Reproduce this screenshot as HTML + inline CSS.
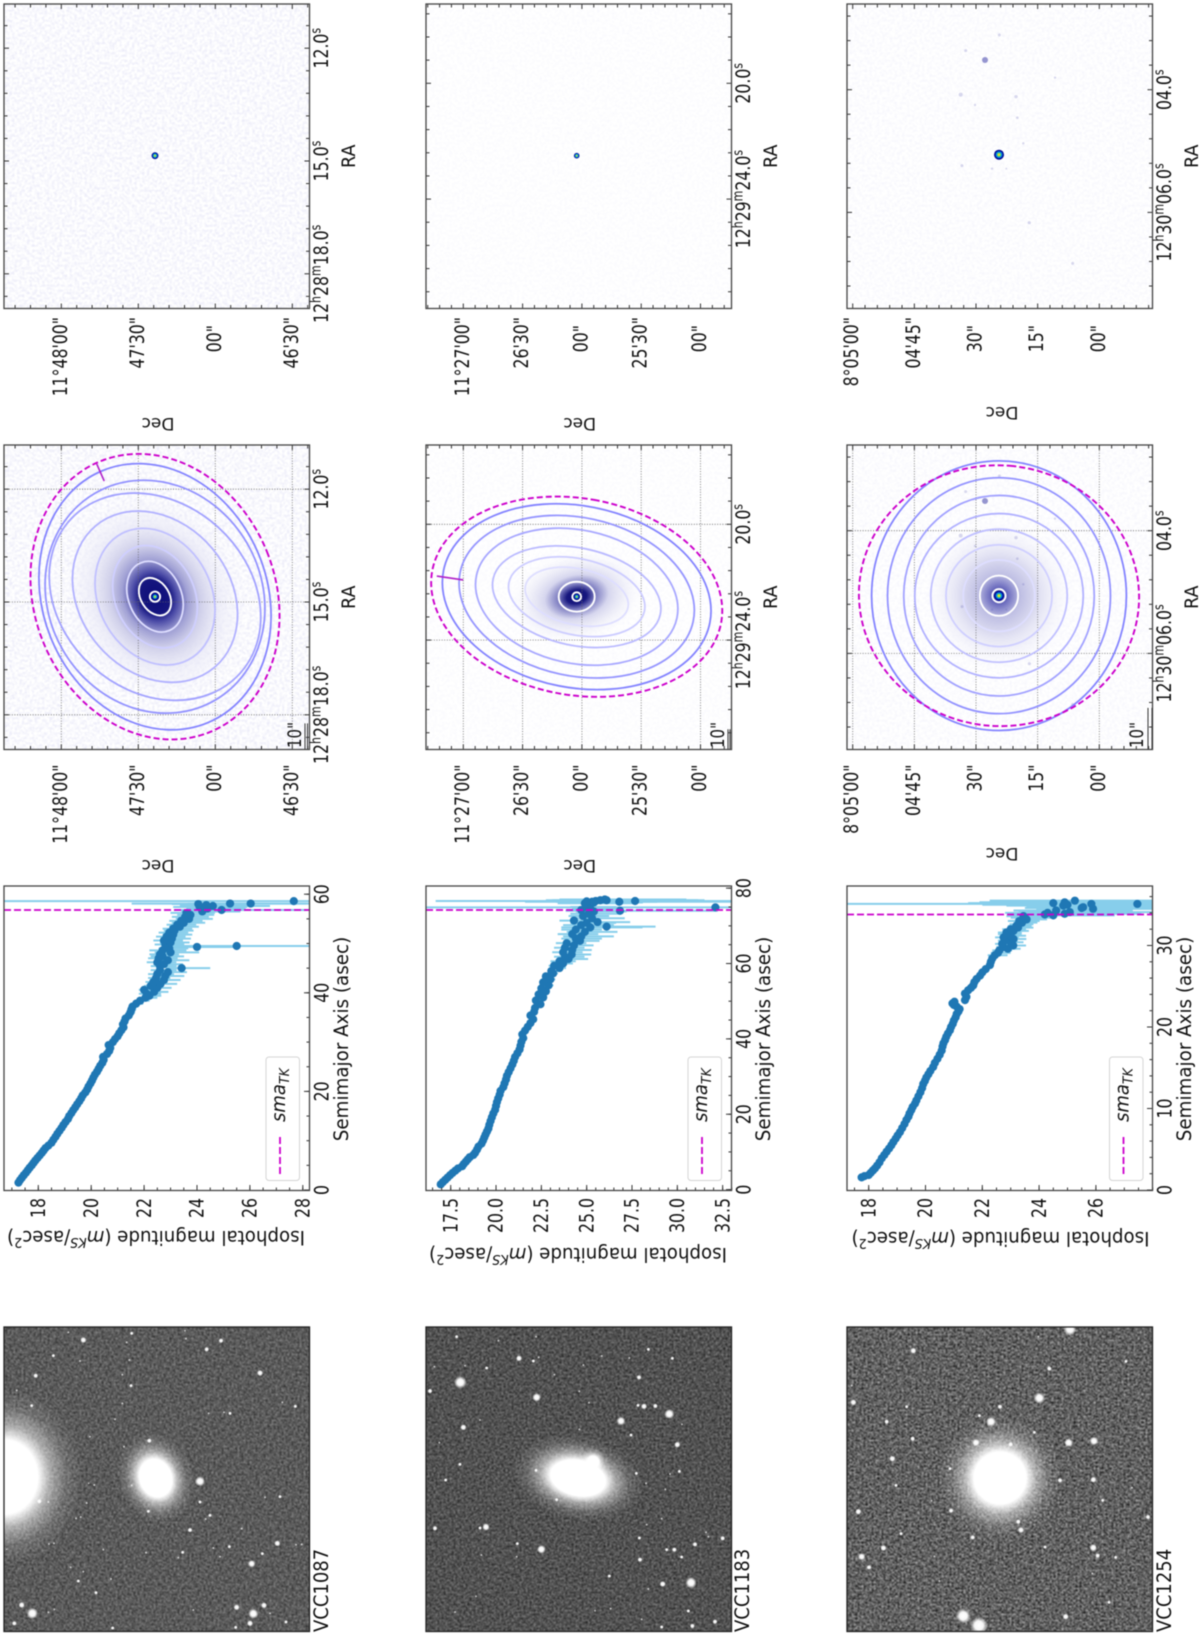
<!DOCTYPE html>
<html lang="en">
<head>
<meta charset="utf-8">
<title>VCC isophote profiles</title>
<style>
html,body{margin:0;padding:0;background:#fff;}
svg{display:block;font-family:"DejaVu Sans","Liberation Sans",sans-serif;filter:blur(0.45px);}
</style>
</head>
<body>
<svg id="figure" xmlns="http://www.w3.org/2000/svg" width="1200" height="1635" viewBox="0 0 1200 1635">
<defs id="defs">
  <filter id="noiseA" x="0" y="0" width="100%" height="100%" color-interpolation-filters="sRGB"><feTurbulence type="fractalNoise" baseFrequency="0.5" numOctaves="2" seed="3"/><feGaussianBlur stdDeviation="0.5"/><feColorMatrix type="matrix" values="0.65 0 0 0 0.03  0.65 0 0 0 0.03  0.65 0 0 0 0.03  0 0 0 0 1"/></filter>
  <filter id="noiseB" x="0" y="0" width="100%" height="100%" color-interpolation-filters="sRGB"><feTurbulence type="fractalNoise" baseFrequency="0.5" numOctaves="2" seed="8"/><feGaussianBlur stdDeviation="0.5"/><feColorMatrix type="matrix" values="0.7 0 0 0 -0.03  0.7 0 0 0 -0.03  0.7 0 0 0 -0.03  0 0 0 0 1"/></filter>
  <filter id="noiseC" x="0" y="0" width="100%" height="100%" color-interpolation-filters="sRGB"><feTurbulence type="fractalNoise" baseFrequency="0.5" numOctaves="2" seed="15"/><feGaussianBlur stdDeviation="0.5"/><feColorMatrix type="matrix" values="1.1 0 0 0 -0.17  1.1 0 0 0 -0.17  1.1 0 0 0 -0.17  0 0 0 0 1"/></filter>
  <filter id="speckle" x="0" y="0" width="100%" height="100%" color-interpolation-filters="sRGB"><feTurbulence type="fractalNoise" baseFrequency="0.4" numOctaves="2" seed="5"/><feGaussianBlur stdDeviation="0.6"/><feColorMatrix type="matrix" values="0 0 0 0 0.55  0 0 0 0 0.55  0 0 0 0 0.85  1.1 0 0 0 -0.44"/></filter>
  <radialGradient id="starGrad"><stop offset="0" stop-color="#fff"/><stop offset="0.5" stop-color="#fff" stop-opacity="0.95"/><stop offset="1" stop-color="#fff" stop-opacity="0"/></radialGradient>
  <radialGradient id="haloGrad"><stop offset="0" stop-color="#fff"/><stop offset="0.42" stop-color="#fff"/><stop offset="0.58" stop-color="#fff" stop-opacity="0.5"/><stop offset="0.78" stop-color="#fff" stop-opacity="0.15"/><stop offset="1" stop-color="#fff" stop-opacity="0"/></radialGradient>
  <radialGradient id="isoHaloA"><stop offset="0" stop-color="#0c0c78"/><stop offset="0.17" stop-color="#16167f"/><stop offset="0.24" stop-color="#4a4aa6"/><stop offset="0.36" stop-color="#a0a0d4"/><stop offset="0.5" stop-color="#d0d0ea"/><stop offset="0.7" stop-color="#e8e8f6" stop-opacity="0.7"/><stop offset="1" stop-color="#f2f2fa" stop-opacity="0"/></radialGradient>
  <radialGradient id="isoHaloB"><stop offset="0" stop-color="#0c0c78"/><stop offset="0.14" stop-color="#18187f"/><stop offset="0.26" stop-color="#7c7cc0"/><stop offset="0.45" stop-color="#d6d6ee"/><stop offset="1" stop-color="#fff" stop-opacity="0"/></radialGradient>
  <radialGradient id="isoHaloC"><stop offset="0" stop-color="#22228c"/><stop offset="0.12" stop-color="#7070c0"/><stop offset="0.28" stop-color="#c0c0e4"/><stop offset="0.55" stop-color="#e4e4f4"/><stop offset="1" stop-color="#fdfdff" stop-opacity="0"/></radialGradient>
</defs>
<rect x="0" y="0" width="1200" height="1635" fill="#fff"/>
<g id="root"></g>
</svg>
<script>
// ---------- VCC1087 surface-brightness profile ----------
const smaA=[1.5,2.0,2.5,3.0,3.5,4.0,4.5,5.0,5.5,6.0,
6.5,7.0,7.5,8.0,8.5,9.0,9.6,10.2,10.8,11.4,
12.0,12.6,13.2,13.8,14.4,15.0,15.6,16.2,16.8,17.4,
18.0,18.6,19.2,19.8,20.4,21.0,21.6,22.2,22.8,23.4,
24.0,24.6,25.2,25.8,26.4,27.0,27.6,28.2,28.8,29.4,
30.0,30.6,31.2,31.8,32.4,33.0,33.6,34.2,34.8,35.4,
36.0,36.6,37.2,37.8,38.4,39.0,39.4,39.8,40.2,40.6,
41.0,41.4,41.8,42.2,42.6,43.0,43.4,43.8,44.2,44.6,
45.0,45.4,45.8,46.2,46.6,47.0,47.4,47.8,48.2,48.6,
49.0,49.3,49.5,49.8,50.2,50.6,51.0,51.4,51.8,52.2,
52.6,53.0,53.4,53.8,54.2,54.6,55.0,55.4,55.8,56.2,
56.5,56.8,57.1,57.4,57.6,57.8,58.0,58.1,58.1,58.6];
const magA=[17.25,17.31,17.38,17.45,17.53,17.60,17.67,17.75,17.82,17.89,
17.97,18.05,18.13,18.20,18.27,18.38,18.50,18.57,18.65,18.72,
18.80,18.88,18.95,19.03,19.12,19.17,19.25,19.32,19.40,19.47,
19.55,19.62,19.68,19.78,19.85,19.90,19.97,20.03,20.08,20.14,
20.22,20.28,20.34,20.42,20.47,20.45,20.60,20.68,20.72,20.66,
20.82,20.90,21.00,21.06,21.14,21.22,21.20,21.26,21.30,21.42,
21.48,21.52,21.56,21.70,21.85,22.05,22.20,22.10,22.38,22.00,
22.50,22.25,22.62,22.35,22.75,22.45,22.80,22.50,22.90,22.60,
23.42,22.60,22.75,22.50,22.90,22.55,22.70,22.60,23.00,22.70,
22.95,24.00,25.50,22.80,23.00,22.75,23.05,22.85,23.10,22.95,
23.15,23.10,23.35,23.25,23.50,23.40,23.70,23.55,23.75,23.60,
24.20,24.93,24.40,24.10,24.60,24.35,24.05,25.25,26.03,27.66];
const errA=[.03,.03,.03,.03,.03,.03,.03,.03,.03,.03,
.03,.03,.03,.03,.03,.03,.03,.03,.03,.03,
.03,.03,.03,.03,.03,.03,.03,.03,.03,.03,
.05,.05,.05,.05,.05,.05,.05,.05,.05,.05,
.05,.05,.05,.05,.05,.05,.05,.05,.05,.05,
.08,.08,.08,.08,.08,.08,.08,.08,.08,.08,
.1,.1,.12,.15,.2,.25,.25,.3,.3,.2,
.3,.25,.35,.3,.35,.3,.4,.35,.4,.35,
.6,.35,.4,.4,.45,.4,.45,.4,.6,.5,
.4,.9,2.6,.4,.4,.4,.4,.4,.4,.4,
.4,.4,.4,.4,.45,.45,.5,.5,.5,.6,
.8,1.8,.8,1,1.2,1,1,1.6,4.5,12];
const magTicksA=[18,20,22,24,26,28];
const smaTicksA=[0,20,40,60];
const smaTkA=56.8;

// ---------- VCC1183 surface-brightness profile ----------
const smaB=[1.4,2.0,2.6,3.2,3.8,4.4,5.0,5.6,6.2,6.8,
7.4,8.0,8.6,9.2,9.8,10.6,11.4,12.2,13.0,13.8,
14.6,15.4,16.2,17.2,18.2,19.2,20.2,21.2,22.2,23.2,
24.2,25.2,26.2,27.2,28.2,29.2,30.2,31.2,32.2,33.2,
34.2,35.2,36.2,37.2,38.2,39.2,40.2,41.2,42.2,43.2,
44.2,45.2,46.2,47.2,48.2,49.2,50.2,51.0,51.8,52.6,
53.4,54.2,55.0,55.8,56.6,57.4,58.0,58.8,59.4,60.0,
60.6,61.2,61.8,62.4,63.0,63.6,64.2,64.8,65.4,66.0,
66.6,67.2,67.8,68.4,69.0,69.6,70.2,70.8,71.4,72.0,
72.6,73.2,73.8,74.2,74.6,75.0,76.0,76.4,76.6,76.8,
74.0,74.9,76.4,76.6,76.8,76.2,77.0,69.8,71.0,76.5];
const magB=[16.95,17.07,17.2,17.33,17.46,17.6,17.75,17.9,18.13,18.22,
18.33,18.44,18.55,18.75,18.85,18.95,19.03,19.2,19.28,19.35,
19.42,19.5,19.58,19.63,19.7,19.77,19.85,19.95,20.0,20.05,
20.12,20.2,20.25,20.4,20.47,20.55,20.6,20.7,20.8,20.9,
20.98,21.05,21.18,21.3,21.35,21.4,21.5,21.45,21.6,21.75,
21.9,22.05,21.9,22.1,22.15,22.45,22.2,22.6,22.35,22.75,
22.5,22.9,22.6,23.0,22.75,23.15,23.05,23.5,23.2,23.7,
23.5,24.0,23.8,24.17,23.7,24.2,23.8,24.3,23.9,24.63,
24.4,24.7,24.2,24.9,24.4,25.2,24.7,25.0,24.3,25.3,
24.8,25.1,25.4,24.7,25.2,25.0,24.9,25.3,25.5,25.75,
26.84,32.1,26.8,27.67,26.1,25.4,26.0,26.1,25.6,25.0];
const errB=[.03,.03,.03,.03,.03,.03,.03,.03,.03,.03,
.03,.03,.03,.03,.03,.03,.03,.03,.03,.03,
.05,.05,.05,.05,.05,.05,.05,.05,.05,.05,
.05,.05,.05,.05,.05,.05,.05,.05,.05,.05,
.06,.06,.06,.06,.06,.06,.06,.06,.06,.06,
.1,.1,.1,.1,.1,.1,.1,.1,.1,.1,
.15,.15,.15,.15,.15,.15,.2,.2,.3,.3,
.5,.6,.6,.6,.6,.6,.6,.6,.6,.6,
.8,1,.8,1,.8,1.6,1,.9,.8,1,
.8,1,1,.8,1,.9,1.5,2,2.5,3,
3,16,5.2,11,3,1.5,2.5,1.5,1,1];
const magTicksB=[17.5,20,22.5,25,27.5,30,32.5];
const smaTicksB=[0,20,40,60,80];
const smaTkB=74.2;

// ---------- VCC1254 surface-brightness profile ----------
const smaC=[1.55,1.7,1.84,2.1,2.4,2.65,3.0,3.4,3.9,4.3,
4.7,5.1,5.5,5.9,6.3,6.7,7.1,7.6,8.1,8.6,
9.0,9.4,9.8,10.2,10.6,11.0,11.5,12.0,12.5,13.0,
13.4,13.8,14.2,14.6,15.1,15.6,16.1,16.6,17.1,17.6,
18.0,18.4,18.8,19.2,19.6,20.0,20.4,20.8,21.2,21.6,
21.9,22.2,22.5,22.7,22.9,23.1,23.3,23.7,24.1,24.5,
24.8,25.1,25.5,25.9,26.3,26.7,27.1,27.6,28.0,28.4,
28.8,29.1,29.4,29.6,29.8,30.0,30.2,30.4,30.6,30.8,
31.0,31.2,31.4,31.6,31.8,32.0,32.2,32.4,32.6,32.8,
33.0,33.2,33.4,33.6,33.7,33.8,33.9,34.0,34.1,34.3,
34.5,34.7,34.9,35.1,35.2,35.3,35.5,34.6,35.0,35.1];
const magC=[17.75,17.85,18.0,18.07,18.15,18.22,18.3,18.38,18.46,18.55,
18.63,18.72,18.8,18.87,18.95,19.02,19.1,19.18,19.26,19.33,
19.4,19.44,19.5,19.55,19.63,19.68,19.75,19.82,19.88,19.92,
19.98,20.03,20.1,20.17,20.27,20.33,20.42,20.5,20.57,20.6,
20.63,20.69,20.73,20.79,20.86,20.9,20.96,21.0,21.06,21.1,
21.16,21.2,21.1,21.0,20.95,21.02,21.39,21.44,21.39,21.5,
21.6,21.68,21.72,21.8,21.92,22.0,22.12,22.27,22.3,22.35,
22.44,22.55,22.6,22.9,22.74,23.09,22.7,23.0,22.8,23.1,
22.75,23.0,22.85,22.85,23.1,23.0,23.26,23.2,23.26,23.4,
23.3,23.56,23.5,23.45,24.5,24.2,24.9,24.3,25.08,24.6,
25.9,25.55,24.85,25.84,24.5,24.9,25.26,25.5,25.0,27.46];
const errC=[.03,.03,.03,.03,.03,.03,.03,.03,.03,.03,
.03,.03,.03,.03,.03,.03,.03,.03,.03,.03,
.03,.03,.03,.03,.03,.03,.03,.03,.03,.03,
.03,.03,.03,.03,.03,.03,.03,.03,.03,.03,
.03,.03,.03,.03,.03,.03,.03,.03,.03,.03,
.05,.05,.05,.05,.05,.05,.05,.05,.05,.05,
.08,.08,.08,.08,.08,.08,.08,.08,.08,.08,
.25,.25,.25,.25,.25,.25,.25,.25,.25,.25,
.3,.3,.3,.3,.3,.3,.3,.3,.3,.3,
.4,.4,.5,.6,1.2,1.2,1.5,1.5,1.8,1.5,
2,2,2,2,3,3,3,2,3,11];
const magTicksC=[18,20,22,24,26];
const smaTicksC=[0,10,20,30];
const smaTkC=33.8;

// ---------- fitted isophotes (arcsec, axis ratio, tilt in deg) ----------
const isoSmaA=[2,7.9,14.3,20.7,27.8,36,44.6,46.6,53.2];
const isoQA=[1,.70,.72,.75,.79,.81,.82,.89,.82];
const isoTiltA=[0,32,23,24,28,40,48,30,23];
const tkEllipseA=[56.9,.826,22];
const paMarkA=[23.7,49.2,56.5];
const isoSmaB=[2.2,9.1,26.5,35,43.2,51.8,60.2,68.6];
const isoQB=[1,.83,.535,.55,.57,.65,.665,.67];
const isoTiltB=[0,90,78,78,78,78,78,79];
const tkEllipseB=[74.2,.67,80];
const paMarkB=[81.6,58,71.5];
const isoSmaC=[1.6,4.9,8.7,12.9,16.6,20.5,24.4,28.7,32.8];
const isoQC=[1,.95,1,.96,.975,.975,.95,.945,.945];
const isoTiltC=[0,0,0,90,90,90,0,0,0];
const tkEllipseC=[34.1,.93,85];

const decLabelsA=['11°48\'00"','47\'30"','00"','46\'30"'];
const raLabelsA=['12.0s','15.0s','12h28m18.0s'];
const decLabelsB=['11°27\'00"','26\'30"','00"','25\'30"','00"'];
const raLabelsB=['20.0s','12h29m24.0s'];
const decLabelsC=['8°05\'00"','04\'45"','30"','15"','00"'];
const raLabelsC=['04.0s','12h30m06.0s'];

// ---------- photographic plates: sources as x,y,size in plate units ----------
const starsA=[250,120,5,395,100,3,555,92,2,558,116,2,663,122,4,620,148,4,205,97,2,380,127,2,160,167,3,107,227,4,240,183,2,388,180,2,367,224,2,393,257,3,50,271,2,95,317,3,367,310,2,780,219,5,847,307,2,886,319,3,626,340,2,672,337,2,690,340,3,345,358,2,270,410,2,448,422,4,372,440,2,600,544,8,395,556,2,283,555,2,266,550,1.5,600,606,3,445,634,3,630,646,3,617,657,2,570,690,4,725,686,2,228,655,2,242,651,2,260,609,2,145,606,2,840,590,3,795,592,2,688,740,3,640,744,2,548,757,3,438,758,2,310,749,2,832,730,5,888,734,2,905,733,2,787,761,3,755,791,6,660,770,2,535,773,2,212,802,2,250,815,2,235,843,3,333,837,2,288,878,3,145,937,2,163,928,2,65,915,5,97,940,9,43,970,4,338,984,3,710,922,5,792,916,5,760,941,8,750,970,5,810,940,2,858,966,3,707,982,3,580,930,2,147,732,2,162,730,2,20,748,1.5,118,604,4];
const starsB=[170,110,3,295,122,2,408,110,2,357,175,5,400,183,3,416,172,2,195,197,2,103,200,2,260,204,3,181,247,10,90,273,4,410,292,7,550,195,2,463,224,2,538,274,2,567,308,2,745,148,3,605,168,2,688,174,2,817,175,3,717,232,4,714,316,3,732,319,5,766,318,4,808,342,8,663,363,7,190,382,5,240,360,2,538,388,2,693,405,3,832,434,5,846,373,2,118,428,2,180,493,3,137,540,3,408,511,3,470,599,3,709,520,3,738,550,2,810,522,2,838,514,3,796,568,2,105,685,4,258,681,6,240,684,3,352,731,3,424,748,7,350,770,2,244,765,2,718,714,3,740,674,2,785,656,2,885,733,4,968,715,4,918,697,2,925,710,2,800,749,3,823,749,4,720,779,4,845,771,3,628,828,3,788,852,5,873,848,9,745,867,2,945,965,4,877,978,4,785,981,3,632,926,2,585,932,2,725,958,2,865,933,3,228,889,2,165,936,2];
const starsC=[340,152,5,715,110,2,810,88,10,978,184,3,748,206,4,160,307,5,320,320,3,260,365,4,600,320,4,718,294,9,573,365,8,538,347,3,338,416,4,703,397,3,528,428,6,806,428,7,882,423,7,632,433,4,277,476,5,880,539,5,780,541,4,450,506,3,288,556,3,395,602,2,908,601,3,996,563,2,175,635,5,453,632,4,655,665,4,663,690,5,1044,651,4,303,701,3,518,712,4,250,744,5,185,770,6,207,802,4,403,769,2,880,743,6,893,767,4,947,772,3,735,741,3,877,820,2,418,843,2,927,907,3,490,948,12,537,977,14,797,950,5,155,257,2];
const faintSourcesC=[555,180,3,598,105,1.5,497,152,1.5,482,284,2,525,315,1.2,648,290,1.7,765,233,1.2,486,497,1.5,576,506,1.2,619,506,1,688,668,1.6,652,353,1.3,670,430,1.2,818,790,1.5];

const NS='http://www.w3.org/2000/svg';
const root=document.getElementById('root');
const defs=document.getElementById('defs');
const rowTop={iso1:4,iso2:445,plot:886,raw:1327};
const PANEL_W=305.5, PANEL_H=304.5;

function mk(tag,attrs,parent){
  const e=document.createElementNS(NS,tag);
  for(const k in attrs){e.setAttribute(k,attrs[k]);}
  parent.appendChild(e);
  return e;
}
function group(parent,name){
  const g=mk('g',{},parent);
  
  
  return g;
}
function clip(id,x,y,w,h){
  const c=mk('clipPath',{id:id},defs);
  mk('rect',{x:x,y:y,width:w,height:h},c);
}
// segs: string or [text,{i,sup,sub}] list. Placed in local rotated/scaled coordinates.
function label(parent,name,segs,x,y,rot,anchor,size,sy){
  const t=mk('text',{transform:'translate('+x+' '+y+') rotate('+rot+') scale(1 '+sy+')','text-anchor':anchor,'font-size':size,fill:'#111'},parent);
  
  
  const list=(typeof segs==='string')?[[segs,{}]]:segs;
  let shift=0;
  list.forEach(function(s){
    const o=s[1]||{};
    const target=o.sup?-0.38*size:(o.sub?0.2*size:0);
    const a={dy:(target-shift)};
    if(o.sup||o.sub){a['font-size']=size*0.7;}
    if(o.i){a['font-style']='italic';}
    const ts=mk('tspan',a,t);
    ts.textContent=s[0];
    shift=target;
  });
  return t;
}
function raSegs(str){
  const out=[];
  str.split(/([hms])/).forEach(function(p){
    if(p==='')return;
    if(p==='h'||p==='m'||p==='s'){out.push([p,{sup:1}]);}
    else{out.push([p,{}]);}
  });
  return out;
}
function frame(parent,name,x,y,w,h,col){
  const r=mk('rect',{x:x,y:y,width:w,height:h,fill:'none',stroke:col,'stroke-width':1.3},parent);
  
  
}
function tick(parent,x1,y1,x2,y2,col){
  const l=mk('line',{x1:x1,y1:y1,x2:x2,y2:y2,stroke:col,'stroke-width':1},parent);
  
  
}

// ---------- profile panel ----------
function profilePanel(cfg){
  const g=group(root,'profile-plot-'+cfg.id);
  const x0=cfg.x0,y0=rowTop.plot,x1=x0+PANEL_W,y1=y0+PANEL_H;
  const clipId='clip-plot-'+cfg.id;
  clip(clipId,x0,y0,PANEL_W,PANEL_H);
  const xOf=function(m){return cfg.mag0X+(m-cfg.mag0)*cfg.magScale;};
  const yOf=function(s){return cfg.sma0Y-s*cfg.smaScale;};
  const marks=mk('g',{'clip-path':'url(#'+clipId+')'},g);
  
  
  cfg.sma.forEach(function(s,i){
    const lo=cfg.err[i],hi=cfg.err[i]*1.8;
    const bar=mk('line',{x1:xOf(cfg.mag[i]-lo),x2:xOf(cfg.mag[i]+hi),y1:yOf(s),y2:yOf(s),stroke:'#87ceeb','stroke-width':2},marks);
    
    
  });
  cfg.sma.forEach(function(s,i){
    const dot=mk('circle',{cx:xOf(cfg.mag[i]),cy:yOf(s),r:4.1,fill:'#1f77b4'},marks);
    
    
  });
  const tk=mk('line',{x1:x0,x2:x1,y1:yOf(cfg.smaTk),y2:yOf(cfg.smaTk),stroke:'#cc00cc','stroke-width':1.8,'stroke-dasharray':'7 3'},marks);
  
  
  // ticks
  const col='#333';
  for(let m=Math.ceil((cfg.magMin)*2)/2;m<=cfg.magMax;m+=0.5){
    tick(g,xOf(m),y1,xOf(m),y1-3,col);
  }
  cfg.magTicks.forEach(function(m){
    if(xOf(m)>x1)return;
    tick(g,xOf(m),y1,xOf(m),y1-5.5,col);
    label(g,'y-tick-label',cfg.magFmt(m),xOf(m)+6.7,y1+7.5,-90,'end',15.7,1.25);
  });
  for(let s=0;yOf(s)>=y0;s+=cfg.smaMinor){
    tick(g,x1,yOf(s),x1-3,yOf(s),col);
  }
  cfg.smaTicks.forEach(function(s){
    tick(g,x1,yOf(s),x1-5.5,yOf(s),col);
    label(g,'x-tick-label',String(s),x1+19,yOf(s),-90,'middle',15.7,1.25);
  });
  frame(g,'plot-frame',x0,y0,PANEL_W,PANEL_H,'#444');
  // legend
  const lx=cfg.legendX;
  const box=mk('rect',{x:lx,y:1057,width:33.5,height:123.5,rx:3,fill:'#fff','fill-opacity':0.8,stroke:'#d4d4d4','stroke-width':1},g);
  
  
  const ll=mk('line',{x1:lx+14,x2:lx+14,y1:1174,y2:1137,stroke:'#cc00cc','stroke-width':1.8,'stroke-dasharray':'7 3'},g);
  
  
  label(g,'legend-label',[['sma',{i:1}],['TK',{sub:1,i:1}]],lx+19,1122,-90,'start',18,1.05);
  // axis titles
  label(g,'x-axis-title','Semimajor Axis (asec)',x0+344,1039,-90,'middle',18.3,1.05);
  label(g,'y-axis-title',[['Isophotal magnitude (',{}],['m',{i:1}],['KS',{sup:1,i:1}],['/asec',{}],['2',{sup:1}],[')',{}]],cfg.yTitleX,cfg.yTitleY,180,'middle',18.2,1.05);
}

function fmtInt(m){return String(m);}
function fmtOne(m){return m.toFixed(1);}
profilePanel({id:'vcc1087',x0:4,sma:smaA,mag:magA,err:errA,mag0:18,mag0X:38.3,magScale:26.45,sma0Y:1190,smaScale:4.93,magMin:16.7,magMax:28.2,magTicks:magTicksA,smaTicks:smaTicksA,smaMinor:5,magFmt:fmtInt,smaTk:smaTkA,legendX:266,yTitleX:156,yTitleY:1231});
profilePanel({id:'vcc1183',x0:426,sma:smaB,mag:magB,err:errB,mag0:17.5,mag0X:450.7,magScale:18.13,sma0Y:1189.6,smaScale:3.768,magMin:16.2,magMax:33.1,magTicks:magTicksB,smaTicks:smaTicksB,smaMinor:5,magFmt:fmtOne,smaTk:smaTkB,legendX:688,yTitleX:578,yTitleY:1248});
profilePanel({id:'vcc1254',x0:847,sma:smaC,mag:magC,err:errC,mag0:18,mag0X:868.7,magScale:28.4,sma0Y:1190,smaScale:8.15,magMin:17.3,magMax:28,magTicks:magTicksC,smaTicks:smaTicksC,smaMinor:2,magFmt:fmtInt,smaTk:smaTkC,legendX:1109.5,yTitleX:1000.5,yTitleY:1232});

// ---------- WCS sky panels ----------
function skyFrame(g,cfg,top,withGrid){
  const x0=cfg.x0,x1=x0+PANEL_W,y1=top+PANEL_H;
  const col='#333';
  const decX=function(i){return cfg.decFirst+cfg.decStep*i;};
  const raY=function(i){return top+cfg.raFirst+cfg.raStep*i;};
  if(withGrid){
    cfg.decLabels.forEach(function(l,i){
      const gl=mk('line',{x1:decX(i),x2:decX(i),y1:top,y2:y1,stroke:'#666','stroke-width':0.8,'stroke-dasharray':'1 1.6'},g);
      
      
    });
    cfg.raLabels.forEach(function(l,i){
      const gl=mk('line',{x1:x0,x2:x1,y1:raY(i),y2:raY(i),stroke:'#666','stroke-width':0.8,'stroke-dasharray':'1 1.6'},g);
      
      
    });
  }
  for(let k=-12;k<40;k++){
    const x=cfg.decFirst+k*cfg.decStep/5;
    if(x>x0+1&&x<x1-1){
      const L=(k%5===0)?5:3.5;
      tick(g,x,top,x,top+L,col);
      tick(g,x,y1,x,y1-L,col);
    }
    const y=top+cfg.raFirst+k*cfg.raStep/5;
    if(y>top+1&&y<y1-1){
      const L=(k%5===0)?5:3.5;
      tick(g,x0,y,x0+L,y,col);
      tick(g,x1,y,x1-L,y,col);
    }
  }
  frame(g,'sky-panel-frame',x0,top,PANEL_W,PANEL_H,'#444');
  cfg.decLabels.forEach(function(l,i){
    let end=top+PANEL_H+15;
    if(!withGrid){end=(l.length<=3)?325:317;}
    label(g,'dec-tick-label',l,decX(i)+5.5,end,-90,'end',15.7,1.25);
  });
  cfg.raLabels.forEach(function(l,i){
    label(g,'ra-tick-label',raSegs(l),x0+324,raY(i),-90,'middle',15.7,1.25);
  });
  label(g,'ra-axis-title','RA',x0+351,top+PANEL_H/2+(withGrid?0:0),-90,'middle',17.5,1.05);
  label(g,'dec-axis-title','Dec',cfg.cx+3,withGrid?cfg.decLabelLower:cfg.decLabelUpper,180,'middle',17,1);
}
function coreDot(g,cx,cy,cfg){
  [[cfg.coreR,'#000a90'],[cfg.coreR*0.72,'#0068e0'],[cfg.coreR*0.5,'#20c8b0'],[cfg.coreR*0.28,'#e8e020']].forEach(function(p){
    const c=mk('circle',{cx:cx,cy:cy,r:p[0],fill:p[1]},g);
    
    
  });
}
function isoColor(i,n){
  if(i<2)return '#ffffff';
  const t=(i-2)/Math.max(1,n-3);
  const v=Math.round(222-t*(222-132));
  return 'rgb('+v+','+v+',255)';
}
function skyPanels(cfg){
  // Upper: the map alone
  const gA=group(root,'sky-map-'+cfg.id);
  const topA=rowTop.iso1;
  clip('clip-a-'+cfg.id,cfg.x0,topA,PANEL_W,PANEL_H);
  const ma=mk('g',{'clip-path':'url(#clip-a-'+cfg.id+')'},gA);
  
  
  mk('rect',{x:cfg.x0,y:topA,width:PANEL_W,height:PANEL_H,fill:'#fff'},ma);
  mk('rect',{x:cfg.x0,y:topA,width:PANEL_W,height:PANEL_H,filter:'url(#speckle)',opacity:cfg.speckle},ma);
  const dy=-441;
  (cfg.faint||[]).forEach(function(v,i,a){
    if(i%3)return;
    const s=mk('circle',{cx:800+a[i]/3,cy:a[i+1]/3,r:a[i+2],fill:'#5050b0',opacity:a[i+2]>2?0.6:0.22},ma);
    
    
  });
  coreDot(ma,cfg.cx,cfg.cy+dy,cfg);
  skyFrame(gA,cfg,topA,false);

  // Lower: map + isophotes
  const gB=group(root,'isophote-map-'+cfg.id);
  const topB=rowTop.iso2;
  clip('clip-b-'+cfg.id,cfg.x0,topB,PANEL_W,PANEL_H);
  const mb=mk('g',{'clip-path':'url(#clip-b-'+cfg.id+')'},gB);
  
  
  mk('rect',{x:cfg.x0,y:topB,width:PANEL_W,height:PANEL_H,fill:'#fff'},mb);
  mk('rect',{x:cfg.x0,y:topB,width:PANEL_W,height:PANEL_H,filter:'url(#speckle)',opacity:cfg.speckle},mb);
  const halo=mk('ellipse',{cx:cfg.cx,cy:cfg.cy,rx:cfg.halo[0],ry:cfg.halo[1],fill:'url(#'+cfg.haloId+')',transform:'rotate('+cfg.halo[2]+' '+cfg.cx+' '+cfg.cy+')'},mb);
  
  
  (cfg.faint||[]).forEach(function(v,i,a){
    if(i%3)return;
    const s=mk('circle',{cx:800+a[i]/3,cy:a[i+1]/3+441,r:a[i+2],fill:'#5050b0',opacity:a[i+2]>2?0.6:0.22},mb);
    
    
  });
  skyFrame(gB,cfg,topB,true);
  const iso=mk('g',{'clip-path':'url(#clip-b-'+cfg.id+')'},gB);
  
  
  const n=cfg.isoSma.length;
  for(let i=n-1;i>=0;i--){
    const a=cfg.isoSma[i]*cfg.scale, b=a*cfg.isoQ[i];
    const e=mk('ellipse',{cx:cfg.cx,cy:cfg.cy,rx:b,ry:a,fill:'none',stroke:isoColor(i,n),'stroke-width':i<2?1.9:1.8,transform:'rotate('+(-cfg.isoTilt[i])+' '+cfg.cx+' '+cfg.cy+')'},iso);
    
    
  }
  coreDot(iso,cfg.cx,cfg.cy,cfg);
  const tkA=cfg.tk[0]*cfg.scale;
  const d=mk('ellipse',{cx:cfg.cx,cy:cfg.cy,rx:tkA*cfg.tk[1],ry:tkA,fill:'none',stroke:'#cc00cc','stroke-width':1.9,'stroke-dasharray':'6 3',transform:'rotate('+(-cfg.tk[2])+' '+cfg.cx+' '+cfg.cy+')'},iso);
  
  
  if(cfg.pa){
    const th=cfg.pa[0]*Math.PI/180;
    const r1=cfg.pa[1]*cfg.scale, r2=cfg.pa[2]*cfg.scale;
    const p=mk('line',{x1:cfg.cx-r1*Math.sin(th),y1:cfg.cy-r1*Math.cos(th),x2:cfg.cx-r2*Math.sin(th),y2:cfg.cy-r2*Math.cos(th),stroke:'#b020c8','stroke-width':1.6},iso);
    
    
  }
  // scale bar
  const sb=cfg.bar;
  const bar1=mk('line',{x1:sb[0],x2:sb[0],y1:749,y2:749-10*cfg.scale,stroke:'#333','stroke-width':1},gB);
  
  
  const bar2=mk('line',{x1:sb[0]+sb[1],x2:sb[0]+sb[1],y1:749,y2:749-10*cfg.scale,stroke:'#333','stroke-width':1},gB);
  
  
  label(gB,'scale-bar-label','10"',sb[2],748,-90,'start',15,1.25);
}
skyPanels({id:'vcc1087',x0:4,cx:155,cy:596.7,scale:2.567,decFirst:61.3,decStep:77,raFirst:44.2,raStep:112.8,decLabels:decLabelsA,raLabels:raLabelsA,isoSma:isoSmaA,isoQ:isoQA,isoTilt:isoTiltA,tk:tkEllipseA,pa:paMarkA,coreR:3.4,speckle:0.45,halo:[88,105,-25],haloId:'isoHaloA',bar:[305,2.5,301],decLabelUpper:418,decLabelLower:860});
skyPanels({id:'vcc1183',x0:426,cx:576.7,cy:596.7,scale:1.978,decFirst:463.3,decStep:59.3,raFirst:79.3,raStep:115.8,decLabels:decLabelsB,raLabels:raLabelsB,isoSma:isoSmaB,isoQ:isoQB,isoTilt:isoTiltB,tk:tkEllipseB,pa:paMarkB,coreR:2.8,speckle:0.12,halo:[72,48,-12],haloId:'isoHaloB',bar:[728,2,724],decLabelUpper:418,decLabelLower:860});
skyPanels({id:'vcc1254',x0:847,cx:999,cy:595.7,scale:4.11,decFirst:852.7,decStep:61.65,raFirst:85.7,raStep:122.7,decLabels:decLabelsC,raLabels:raLabelsC,isoSma:isoSmaC,isoQ:isoQC,isoTilt:isoTiltC,tk:tkEllipseC,pa:null,coreR:5,speckle:0.2,halo:[78,78,0],haloId:'isoHaloC',bar:[1148,4,1143],faint:faintSourcesC,decLabelUpper:407,decLabelLower:848});

// ---------- photographic plates ----------
function plate(id,x0,cropX,noise,stars,blobs,title,titleX){
  const top=rowTop.raw;
  const g=group(root,'photo-'+id);
  clip('clip-raw-'+id,x0,top,PANEL_W,PANEL_H);
  const m=mk('g',{'clip-path':'url(#clip-raw-'+id+')'},g);
  
  
  const bg=mk('rect',{x:x0,y:top,width:PANEL_W,height:PANEL_H,filter:'url(#'+noise+')'},m);
  
  
  blobs.forEach(function(b){
    const e=mk('ellipse',{cx:b[0],cy:b[1],rx:b[2],ry:b[3],fill:'url(#haloGrad)',transform:'rotate('+b[4]+' '+b[0]+' '+b[1]+')'},m);
    
    
  });
  for(let i=0;i<stars.length;i+=3){
    const s=mk('circle',{cx:cropX+stars[i]/3,cy:1300+stars[i+1]/3,r:stars[i+2]/3*1.9,fill:'url(#starGrad)',opacity:stars[i+2]<=2?0.7:1},m);
    
    
  }
  frame(g,'photo-frame',x0,top,PANEL_W,PANEL_H,'#222');
  label(g,'galaxy-name',title,titleX,1632,-90,'start',18,1.1);
}
plate('vcc1087',4,0,'noiseA',starsA,[[5,1477,78,88,0],[155.7,1478,38,46,-20]],'VCC1087',328);
plate('vcc1183',426,400,'noiseB',starsB,[[578,1478,66,42,12],[593,1462,14,14,0]],'VCC1183',749);
plate('vcc1254',847,800,'noiseC',starsC,[[1000,1478,62,62,0]],'VCC1254',1171);
</script>
</body>
</html>
